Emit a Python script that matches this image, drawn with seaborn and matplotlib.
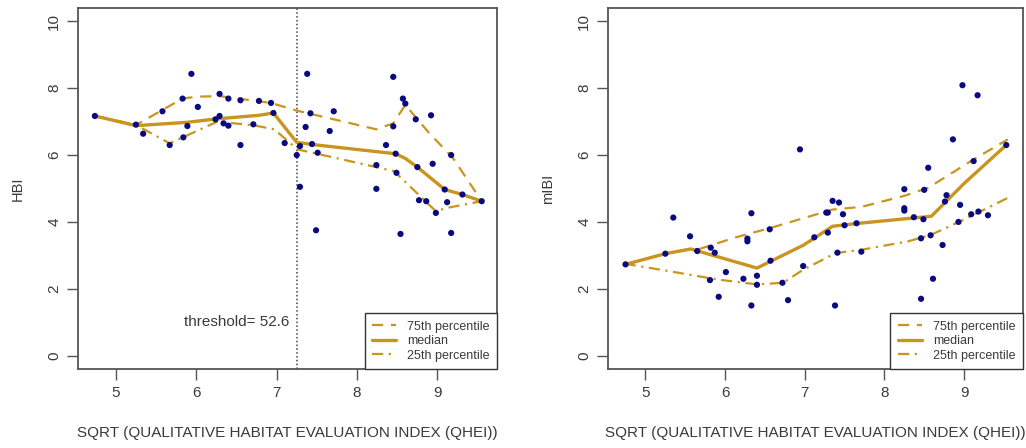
import matplotlib
matplotlib.use("Agg")
import matplotlib.pyplot as plt
import seaborn as sns
import pandas as pd
from matplotlib.lines import Line2D

# ---------------- data: left panel (HBI) ----------------
hbi_x = [4.74, 5.25, 5.34, 5.58, 5.67, 5.83, 5.84, 5.89, 5.94, 6.02, 6.24, 6.29, 6.29,
         6.34, 6.40, 6.40, 6.55, 6.55, 6.71, 6.78, 6.93, 6.96, 7.10, 7.25, 7.29, 7.29,
         7.36, 7.38, 7.42, 7.44, 7.49, 7.51, 7.66, 7.71, 8.24, 8.24, 8.36, 8.45, 8.45,
         8.48, 8.49, 8.54, 8.57, 8.60, 8.73, 8.75, 8.77, 8.86, 8.92, 8.94, 8.98, 9.09,
         9.12, 9.17, 9.17, 9.31, 9.55]
hbi_y = [7.17, 6.91, 6.64, 7.31, 6.30, 7.69, 6.53, 6.87, 8.43, 7.44, 7.07, 7.83, 7.17,
         6.95, 7.69, 6.88, 7.64, 6.30, 6.92, 7.62, 7.56, 7.26, 6.36, 6.00, 5.05, 6.27,
         6.84, 8.43, 7.25, 6.33, 3.75, 6.07, 6.72, 7.31, 5.70, 4.99, 6.30, 8.34, 6.86,
         6.04, 5.47, 3.64, 7.69, 7.54, 7.07, 5.64, 4.65, 4.62, 7.19, 5.74, 4.27, 4.97,
         4.59, 6.00, 3.67, 4.82, 4.62]

hbi_med_x = [4.74, 5.25, 5.89, 6.24, 6.78, 6.96, 7.25, 7.50, 8.48, 8.60, 8.75, 9.09, 9.31, 9.55]
hbi_med_y = [7.17, 6.88, 6.98, 7.08, 7.19, 7.26, 6.38, 6.30, 6.04, 5.90, 5.64, 4.97, 4.82, 4.62]
hbi_q75_x = [4.74, 5.25, 5.58, 5.83, 6.02, 6.30, 6.55, 6.93, 7.25, 7.71, 8.24, 8.45, 8.60, 8.90, 9.19, 9.55]
hbi_q75_y = [7.17, 6.90, 7.35, 7.69, 7.75, 7.76, 7.68, 7.56, 7.33, 7.07, 6.77, 6.95, 7.50, 6.65, 5.92, 4.62]
hbi_q25_x = [4.74, 5.25, 5.67, 6.26, 6.72, 6.97, 7.26, 8.46, 8.98, 9.12, 9.55]
hbi_q25_y = [7.17, 6.90, 6.35, 7.00, 6.89, 6.77, 6.17, 5.52, 4.32, 4.42, 4.62]

threshold_qhei = 52.6

# ---------------- data: right panel (mIBI) ----------------
mibi_x = [4.75, 5.25, 5.35, 5.56, 5.65, 5.81, 5.82, 5.87, 5.92, 6.01, 6.23, 6.28, 6.28,
          6.33, 6.33, 6.40, 6.40, 6.56, 6.57, 6.72, 6.79, 6.94, 6.98, 7.12, 7.27, 7.29,
          7.29, 7.35, 7.38, 7.41, 7.43, 7.48, 7.50, 7.65, 7.71, 8.25, 8.25, 8.25, 8.37,
          8.46, 8.46, 8.49, 8.50, 8.55, 8.58, 8.61, 8.73, 8.76, 8.78, 8.86, 8.93, 8.95,
          8.98, 9.09, 9.12, 9.17, 9.18, 9.30, 9.53]
mibi_y = [2.73, 3.05, 4.13, 3.57, 3.13, 2.26, 3.23, 3.08, 1.76, 2.50, 2.30, 3.50, 3.42,
          4.26, 1.50, 2.39, 2.12, 3.78, 2.84, 2.18, 1.66, 6.17, 2.68, 3.54, 4.28, 4.28,
          3.68, 4.63, 1.50, 3.08, 4.58, 4.23, 3.90, 3.96, 3.11, 4.98, 4.41, 4.34, 4.14,
          1.70, 3.51, 4.08, 4.96, 5.62, 3.60, 2.30, 3.31, 4.61, 4.80, 6.47, 4.00, 4.51,
          8.09, 4.23, 5.82, 7.79, 4.31, 4.20, 6.30]

mibi_med_x = [4.75, 5.25, 5.57, 6.40, 6.98, 7.35, 7.64, 8.59, 9.00, 9.53]
mibi_med_y = [2.73, 3.05, 3.19, 2.62, 3.30, 3.87, 3.95, 4.17, 5.15, 6.30]
mibi_q75_x = [4.75, 5.25, 5.57, 5.65, 6.15, 6.57, 7.35, 7.71, 8.25, 8.55, 9.12, 9.55]
mibi_q75_y = [2.73, 3.05, 3.19, 3.17, 3.55, 3.82, 4.37, 4.45, 4.78, 5.02, 5.87, 6.47]
mibi_q25_x = [4.74, 5.24, 5.90, 6.40, 6.73, 6.98, 7.39, 7.72, 8.30, 8.59, 9.00, 9.55]
mibi_q25_y = [2.75, 2.55, 2.28, 2.13, 2.18, 2.57, 3.07, 3.17, 3.42, 3.62, 4.07, 4.72]

x_ticks = [5, 6, 7, 8, 9]
y_ticks = [0, 2, 4, 6, 8, 10]
x_label = "SQRT (QUALITATIVE HABITAT EVALUATION INDEX (QHEI))"
legend_labels = ["75th percentile", "median", "25th percentile"]

# ---------------- style ----------------
sns.set_style("white")
plt.rcParams["font.family"] = ["Liberation Sans", "DejaVu Sans"]
TXT = "#3a3a3a"
GOLD = "#C9951F"
NAVY = "#0a0a80"

fig = plt.figure(figsize=(10.26, 4.48), dpi=100)
ax1 = fig.add_axes([78 / 1026, 1 - 369 / 448, 419 / 1026, 361 / 448])
ax2 = fig.add_axes([608 / 1026, 1 - 369 / 448, 415 / 1026, 361 / 448])


def draw(ax, px, py, mx, my, q75x, q75y, q25x, q25y, ylabel):
    sns.lineplot(x=q75x, y=q75y, ax=ax, sort=False, estimator=None, color=GOLD,
                 lw=1.6, linestyle=(0, (5, 3.5)), zorder=2)
    sns.lineplot(x=q25x, y=q25y, ax=ax, sort=False, estimator=None, color=GOLD,
                 lw=1.6, linestyle=(0, (5, 2.5, 1, 2.5)), zorder=2)
    sns.lineplot(x=mx, y=my, ax=ax, sort=False, estimator=None, color=GOLD,
                 lw=2.4, zorder=3)
    sns.scatterplot(x=px, y=py, ax=ax, color=NAVY, s=20, edgecolor="none", zorder=4)
    ax.set_xlim(4.53, 9.74)
    ax.set_ylim(-0.4, 10.4)
    ax.set_xticks(x_ticks)
    ax.set_yticks(y_ticks)
    ax.set_xticklabels([str(t) for t in x_ticks])
    ax.set_yticklabels([str(t) for t in y_ticks], rotation=90, va="center")
    ax.tick_params(axis="both", which="both", direction="out", length=8, width=1,
                   color="#555555", labelcolor=TXT, labelsize=11, pad=4,
                   bottom=True, left=True)
    for s in ax.spines.values():
        s.set_color("#555555")
        s.set_linewidth(1.3)
    ax.set_xlabel(x_label, color=TXT, fontsize=11, labelpad=19)
    ax.set_ylabel(ylabel, color=TXT, fontsize=10.5, labelpad=16)
    handles = [Line2D([], [], color=GOLD, lw=1.6, linestyle=(0, (5, 3.5))),
               Line2D([], [], color=GOLD, lw=2.4),
               Line2D([], [], color=GOLD, lw=1.6, linestyle=(0, (5, 2.5, 1, 2.5)))]
    leg = ax.legend(handles, legend_labels, loc="lower right", borderaxespad=0,
                    fancybox=False, framealpha=1, edgecolor="#333333", fontsize=9,
                    handlelength=1.9, labelspacing=0.2, borderpad=0.6,
                    handletextpad=0.9)
    leg.get_frame().set_linewidth(1.0)
    for t in leg.get_texts():
        t.set_color(TXT)


draw(ax1, hbi_x, hbi_y, hbi_med_x, hbi_med_y, hbi_q75_x, hbi_q75_y,
     hbi_q25_x, hbi_q25_y, "HBI")
thr = threshold_qhei ** 0.5
ax1.axvline(thr, color="#444444", lw=1.1, linestyle=(0, (1, 1.5)), zorder=1)
ax1.text(6.5, 1.0, "threshold= %.1f" % threshold_qhei, ha="center", va="center",
         color=TXT, fontsize=11)

draw(ax2, mibi_x, mibi_y, mibi_med_x, mibi_med_y, mibi_q75_x, mibi_q75_y,
     mibi_q25_x, mibi_q25_y, "mIBI")

fig.savefig("out.png", dpi=100)
